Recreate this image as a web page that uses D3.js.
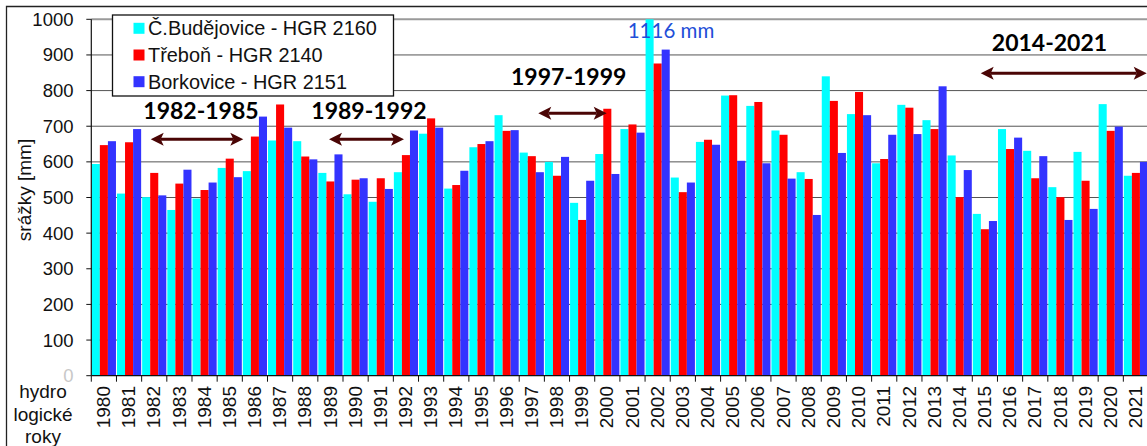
<!DOCTYPE html>
<html><head><meta charset="utf-8">
<script src="https://cdn.jsdelivr.net/npm/d3@7"></script>
<style>body{margin:0;background:#fff;overflow:hidden}svg{display:block}</style>
</head><body><svg id="c" width="1147" height="446"></svg>
<script>
const years = d3.range(1980, 2022).map(String);
const seriesNames = ["Č.Budějovice - HGR 2160", "Třeboň - HGR 2140", "Borkovice - HGR 2151"];
const seriesColors = ["#00ffff", "#ff0000", "#3333ff"];
const budejovice = [594,511,501,465,497,583,574,660,658,569,509,488,571,679,525,641,731,626,600,485,622,692,1116,556,656,786,757,688,571,840,734,596,760,717,618,454,692,631,529,628,762,561];
const trebon = [647,655,569,539,521,609,671,761,615,545,550,554,619,722,535,650,687,616,561,437,749,705,876,515,662,787,768,676,552,771,796,608,752,692,501,411,636,554,501,547,687,569];
const borkovice = [658,692,506,578,542,557,727,696,607,621,554,524,688,696,575,658,689,571,614,547,566,682,915,542,648,603,596,553,451,625,731,676,678,812,577,434,668,616,437,468,699,600];
const yTicks = [0,100,200,300,400,500,600,700,800,900,1000];
const periods = ["1982-1985", "1989-1992", "1997-1999", "2014-2021"];

const svg = d3.select("#c");
const AR = "Liberation Sans, Arial, sans-serif";
const CAL = "Lato, 'Open Sans', sans-serif";
const x0 = 91.3, x1 = 1148.5, yBot = 375.7, yTop = 19.3;
const x = d3.scaleBand().domain(years).range([x0, x1]).paddingInner(0.04).paddingOuter(0.02);
const xs = d3.scaleBand().domain([0,1,2]).range([0, x.bandwidth()]);
const y = d3.scaleLinear().domain([0, 1000]).range([yBot, yTop]);
const step = x.step();

// outer chart border
svg.append("path").attr("d", `M6.5,446 V6.5 H1147`).attr("fill","none").attr("stroke","#222").attr("stroke-width",1.3);

// gridlines
svg.append("g").selectAll("line").data(yTicks.filter(d=>d>0)).join("line")
  .attr("x1", x0).attr("x2", x1).attr("y1", d=>y(d)).attr("y2", d=>y(d))
  .attr("stroke", d=> d===1000 ? "#9a9a9a" : "#555").attr("stroke-width", d=> d===1000 ? 2 : 1);

// bars
const data = [budejovice, trebon, borkovice];
const gBars = svg.append("g");
years.forEach((yr, i) => {
  data.forEach((s, k) => {
    const v = Math.min(s[i], 1000);
    gBars.append("rect")
      .attr("x", x(yr) + xs(k)).attr("width", xs.bandwidth())
      .attr("y", y(v)).attr("height", y(0) - y(v))
      .attr("fill", seriesColors[k]);
  });
});

// axes lines
svg.append("line").attr("x1", x0).attr("x2", x0).attr("y1", yTop).attr("y2", yBot).attr("stroke","#111").attr("stroke-width",1.2);
svg.append("line").attr("x1", x0).attr("x2", x1).attr("y1", yBot).attr("y2", yBot).attr("stroke","#111").attr("stroke-width",1.2);
// y ticks
svg.append("g").selectAll("line").data(yTicks).join("line")
  .attr("x1", x0-5).attr("x2", x0).attr("y1", d=>y(d)).attr("y2", d=>y(d)).attr("stroke","#111");
svg.append("g").selectAll("text").data(yTicks).join("text")
  .attr("x", 73.5).attr("y", d=>y(d)).attr("dy","0.35em").attr("text-anchor","end")
  .attr("font-family", AR).attr("font-size", 18.5).attr("fill", d=> d===0 ? "#c8c8c8" : "#111").text(d=>d);
// x ticks at boundaries
svg.append("g").selectAll("line").data(d3.range(years.length+1)).join("line")
  .attr("x1", i=>x0 + i*step).attr("x2", i=>x0 + i*step).attr("y1", yBot).attr("y2", yBot+6).attr("stroke","#111");
svg.append("g").selectAll("text").data(years).join("text")
  .attr("transform", d=>`translate(${x(d)+x.bandwidth()/2-0.5},386) rotate(-90)`)
  .attr("dy","0.35em").attr("text-anchor","end")
  .attr("font-family", AR).attr("font-size", 19).attr("fill","#111").text(d=>d);

// axis titles
svg.append("text").attr("transform","translate(24,190) rotate(-90)").attr("dy","0.35em").attr("text-anchor","middle")
  .attr("font-family", AR).attr("font-size", 19).attr("fill","#111").text("srážky [mm]");
const xt = svg.append("text").attr("font-family", AR).attr("font-size", 19).attr("fill","#111").attr("text-anchor","middle");
["hydro","logické","roky"].forEach((t,i)=> xt.append("tspan").attr("x", 43).attr("y", 398 + i*22.5).text(t));

// legend
svg.append("rect").attr("x",112.5).attr("y",15).attr("width",281).attr("height",81).attr("fill","#fff").attr("stroke","#111").attr("stroke-width",1.3);
seriesNames.forEach((n,k)=>{
  const cy = 28.3 + k*26.7;
  svg.append("rect").attr("x",133.5).attr("y",cy-5.5).attr("width",11).attr("height",11).attr("fill",seriesColors[k]);
  svg.append("text").attr("x",148).attr("y",cy).attr("dy","0.35em").attr("font-family",AR).attr("font-size",19.9).attr("fill","#111").text(n);
});

// period annotations
const ann = [
  {t: periods[0], tx: 201, ty: 111, a: 150.7, b: 243.3, ay: 139.3},
  {t: periods[1], tx: 369, ty: 111, a: 329, b: 404, ay: 139.3},
  {t: periods[2], tx: 568.7, ty: 77, a: 538.3, b: 606.7, ay: 113.3},
  {t: periods[3], tx: 1049.5, ty: 43.3, a: 980.7, b: 1146.7, ay: 73.3}
];
const AC = "#4a0505";
ann.forEach(d=>{
  svg.append("text").attr("x",d.tx).attr("y",d.ty).attr("dy","0.35em").attr("text-anchor","middle")
    .attr("font-family",CAL).attr("font-weight","bold").attr("font-size",23).attr("fill","#000").text(d.t);
  svg.append("line").attr("x1",d.a+10).attr("x2",d.b-10).attr("y1",d.ay).attr("y2",d.ay).attr("stroke",AC).attr("stroke-width",3);
  svg.append("path").attr("d",`M${d.a},${d.ay} L${d.a+13},${d.ay-6.5} L${d.a+10},${d.ay} L${d.a+13},${d.ay+6.5} Z`).attr("fill",AC);
  svg.append("path").attr("d",`M${d.b},${d.ay} L${d.b-13},${d.ay-6.5} L${d.b-10},${d.ay} L${d.b-13},${d.ay+6.5} Z`).attr("fill",AC);
});

// 1116 mm label
svg.append("text").attr("x", 671).attr("y", 31).attr("dy","0.35em").attr("text-anchor","middle")
  .attr("font-family",CAL).attr("font-weight","normal").attr("font-size",20.5).attr("fill","#1f4fd8").text(budejovice[22] + " mm");
</script></body></html>
